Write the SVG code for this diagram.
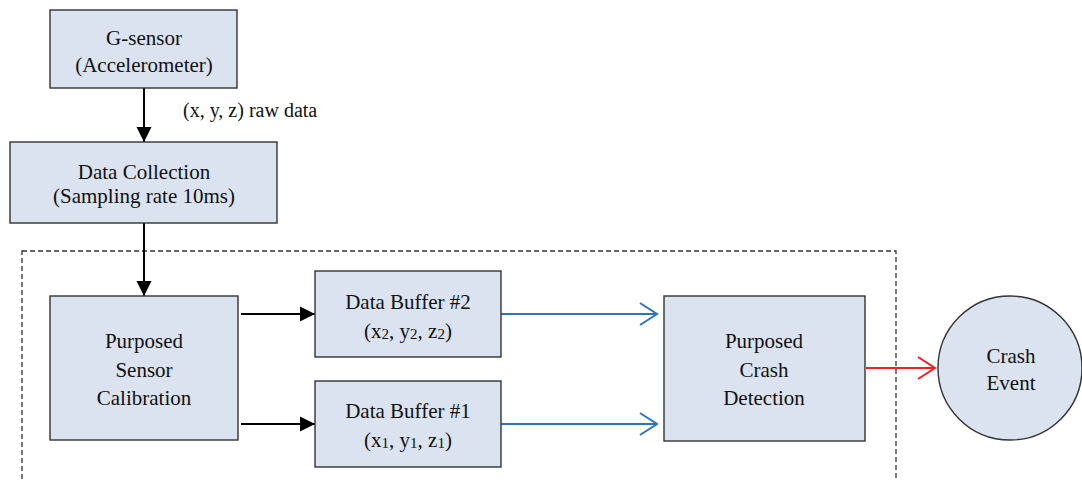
<svg xmlns="http://www.w3.org/2000/svg" width="1082" height="480" viewBox="0 0 1082 480">
<style>
.box{fill:#dae3ef;stroke:#333;stroke-width:1.4}
.t{font-family:"Liberation Serif","Times New Roman",serif;font-size:21px;fill:#111;text-anchor:middle}
.lbl{font-family:"Liberation Serif","Times New Roman",serif;font-size:20px;fill:#111}
.blk{stroke:#000;stroke-width:2;fill:none}
.blu{stroke:#2e75b6;stroke-width:2;fill:none}
.red{stroke:#ee2222;stroke-width:2;fill:none}
</style>
<defs>
<marker id="ab" markerUnits="userSpaceOnUse" markerWidth="16" markerHeight="16" refX="15" refY="8" orient="auto"><path d="M0,0.5 L15,8 L0,15.5 Z" fill="#000"/></marker>
<marker id="abl" markerUnits="userSpaceOnUse" markerWidth="20" markerHeight="26" refX="18" refY="13" orient="auto"><path d="M1,2 L18,13 L1,24" fill="none" stroke="#2e75b6" stroke-width="2"/></marker>
<marker id="ar" markerUnits="userSpaceOnUse" markerWidth="20" markerHeight="26" refX="18" refY="13" orient="auto"><path d="M1,2 L18,13 L1,24" fill="none" stroke="#ee2222" stroke-width="2"/></marker>
</defs>
<rect x="22" y="251" width="874" height="260" fill="none" stroke="#333" stroke-width="1.3" stroke-dasharray="5,3"/>
<g id="connectors">
<line class="blk" x1="144" y1="88" x2="144" y2="142" marker-end="url(#ab)"/>
<text class="lbl" x="183" y="117">(x, y, z) raw data</text>
<line class="blk" x1="144" y1="223" x2="144" y2="296" marker-end="url(#ab)"/>
<line class="blk" x1="241" y1="314" x2="315" y2="314" marker-end="url(#ab)"/>
<line class="blk" x1="241" y1="424" x2="315" y2="424" marker-end="url(#ab)"/>
<line class="blu" x1="501" y1="314" x2="657" y2="314" marker-end="url(#abl)"/>
<line class="blu" x1="501" y1="424" x2="657" y2="424" marker-end="url(#abl)"/>
<line class="red" x1="866" y1="368" x2="935" y2="368" marker-end="url(#ar)"/>
</g>
<g id="gsensor">
<rect class="box" x="50" y="10" width="187" height="78"/>
<text class="t" x="144" y="45">G-sensor</text>
<text class="t" x="144" y="72">(Accelerometer)</text>
</g>
<g id="datacollection">
<rect class="box" x="10" y="142" width="267" height="81"/>
<text class="t" x="144" y="179">Data Collection</text>
<text class="t" x="144" y="203">(Sampling rate 10ms)</text>
</g>
<g id="calibration">
<rect class="box" x="50" y="296" width="188" height="144"/>
<text class="t" x="144" y="348">Purposed</text>
<text class="t" x="144" y="377">Sensor</text>
<text class="t" x="144" y="405">Calibration</text>
</g>
<g id="buffer2">
<rect class="box" x="315" y="271" width="186" height="86"/>
<text class="t" x="408" y="309">Data Buffer #2</text>
<text class="t" x="408" y="338">(x<tspan font-size="15" dy="1">2</tspan><tspan dy="-1">, y</tspan><tspan font-size="15" dy="1">2</tspan><tspan dy="-1">, z</tspan><tspan font-size="15" dy="1">2</tspan><tspan dy="-1">)</tspan></text>
</g>
<g id="buffer1">
<rect class="box" x="315" y="381" width="186" height="86"/>
<text class="t" x="408" y="418">Data Buffer #1</text>
<text class="t" x="408" y="447">(x<tspan font-size="15" dy="1">1</tspan><tspan dy="-1">, y</tspan><tspan font-size="15" dy="1">1</tspan><tspan dy="-1">, z</tspan><tspan font-size="15" dy="1">1</tspan><tspan dy="-1">)</tspan></text>
</g>
<g id="crashdetection">
<rect class="box" x="664" y="296" width="201" height="145"/>
<text class="t" x="764" y="348">Purposed</text>
<text class="t" x="764" y="377">Crash</text>
<text class="t" x="764" y="405">Detection</text>
</g>
<g id="crashevent">
<circle class="box" cx="1010" cy="368" r="72"/>
<text class="t" x="1011" y="363">Crash</text>
<text class="t" x="1011" y="390">Event</text>
</g>
</svg>
